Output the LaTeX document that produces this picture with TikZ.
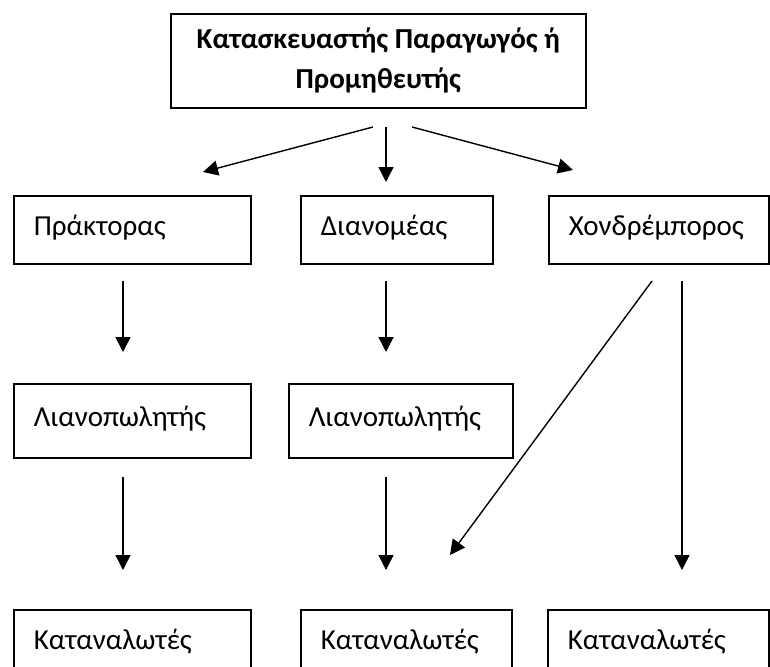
\documentclass[tikz,border=0pt]{standalone}
\usepackage{fontspec}
\setmainfont{Carlito}
\usepackage{tikz}
\usetikzlibrary{arrows.meta}

\tikzset{
  box/.style = {draw, line width = 1.6pt, anchor = north west, inner xsep = 20pt, inner ysep = 0pt, font = \fontsize{29}{35}\selectfont},
  cell/.style = {box, align = left, minimum height = 68pt, text height = 20pt, text depth = 9pt},
  arr/.style = {line width = 1.4pt, -{Triangle[length = 15pt, width = 15pt]}}
}

\begin{document}
\begin{tikzpicture}[x = 1pt, y = -1pt]
\clip (0,0) rectangle (770,666);

\node[box, align = center, minimum width = 415pt, minimum height = 94pt, font = \bfseries\fontsize{29}{40}\selectfont] (prod) at (170,13) {Κατασκευαστής Παραγωγός ή\\Προμηθευτής};

\node[cell, text width = 197pt] (prak) at (13,195) {Πράκτορας};
\node[cell, text width = 152pt] (dian) at (300,195) {Διανομέας};
\node[cell, text width = 180pt] (chon) at (548,195) {Χονδρέμπορος};

\node[cell, text width = 197pt, minimum height = 74pt] (lian1) at (13,383) {Λιανοπωλητής};
\node[cell, text width = 184pt, minimum height = 74pt] (lian2) at (288,383) {Λιανοπωλητής};

\node[cell, text width = 197pt] (kat1) at (13,609) {Καταναλωτές};
\node[cell, text width = 171pt] (kat2) at (300,609) {Καταναλωτές};
\node[cell, text width = 181pt] (kat3) at (547,609) {Καταναλωτές};

\coordinate (p1) at (373,127);
\coordinate (p2) at (386,127);
\coordinate (p3) at (412,127);
\coordinate (prakin) at (203,172);
\coordinate (dianin) at (386,182);
\coordinate (chonin) at (573,170);

\coordinate (prakout) at (123,281);
\coordinate (dianout) at (386,281);
\coordinate (lian1in) at (123,352);
\coordinate (lian2in) at (386,352);

\coordinate (lian1out) at (123,477);
\coordinate (lian2out) at (386,477);
\coordinate (kat1in) at (123,570);
\coordinate (kat2in) at (386,570);

\coordinate (chonout1) at (652,281);
\coordinate (chonout2) at (682,281);
\coordinate (kat2diag) at (450,555);
\coordinate (kat3in) at (682,570);

\draw[arr] (p1)--(prakin);
\draw[arr] (p2)--(dianin);
\draw[arr] (p3)--(chonin);

\draw[arr] (prakout)--(lian1in);
\draw[arr] (dianout)--(lian2in);
\draw[arr] (lian1out)--(kat1in);
\draw[arr] (lian2out)--(kat2in);

\draw[arr] (chonout1)--(kat2diag);
\draw[arr] (chonout2)--(kat3in);
\end{tikzpicture}
\end{document}
